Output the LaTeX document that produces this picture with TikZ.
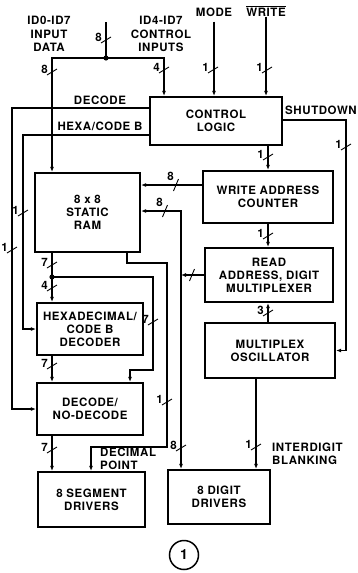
\documentclass[tikz,border=0pt]{standalone}
\usepackage{fontspec}
\newfontfamily\lblfont[LetterSpace=5]{TeX Gyre Heros}
\usetikzlibrary{arrows.meta, positioning, calc}

\tikzset{
    vbus/.pic={
        \draw[line width=0.9pt] (-5pt,-3pt) -- (5pt,3pt);
        \node[tag, anchor=east] at (-3pt,3pt) {#1};
    },
    hbus/.pic={
        \draw[line width=0.9pt] (-2.5pt,-6pt) -- (2.5pt,6pt);
        \node[tag, anchor=south east] at (-1pt,3pt) {#1};
    },
}

\begin{document}
\begin{tikzpicture}[
    x=1pt, y=-1pt,
    >={Latex[length=5pt,width=4pt]},
    tag/.style={
        font=\lblfont\bfseries\fontsize{11.5}{13.5}\selectfont,
        inner sep=1pt,
    },
    block/.style={
        rectangle, draw, line width=2.2pt,
        font=\lblfont\bfseries\fontsize{11.5}{13}\selectfont,
        align=center, inner sep=2pt,
    },
    wire/.style={line width=1.1pt},
]
\useasboundingbox (0,0) rectangle (358,573);

% ── Blocks ─────────────────────────────────────────────────────────────────
\node[block, minimum width=132pt, minimum height=48pt] (ctrl)   at (216,121)   {CONTROL\\LOGIC};
\node[block, minimum width=105pt, minimum height=79pt] (ram)    at (87.5,212.5) {8 x 8\\STATIC\\RAM};
\node[block, minimum width=130pt, minimum height=52pt] (wac)    at (268,197)   {WRITE ADDRESS\\COUNTER};
\node[block, minimum width=128pt, minimum height=54pt] (rmux)   at (269,275)   {READ\\ADDRESS, DIGIT\\MULTIPLEXER};
\node[block, minimum width=130pt, minimum height=55pt] (osc)    at (270,350.5) {MULTIPLEX\\OSCILLATOR};
\node[block, minimum width=106pt, minimum height=52pt] (hexdec) at (90,329)    {HEXADECIMAL/\\CODE B\\DECODER};
\node[block, minimum width=106pt, minimum height=52pt] (dnd)    at (90,409)    {DECODE/\\NO-DECODE};
\node[block, minimum width=107pt, minimum height=55pt] (segdrv) at (91.5,499.5) {8 SEGMENT\\DRIVERS};
\node[block, minimum width=102pt, minimum height=54pt] (digdrv) at (219,497)   {8 DIGIT\\DRIVERS};

% ── Labels ─────────────────────────────────────────────────────────────────
\node[tag, align=center] (idata) at (49,34)  {ID0-ID7\\INPUT\\DATA};
\node[tag, align=center] (ictrl) at (161,34) {ID4-ID7\\CONTROL\\INPUTS};
\node[tag] (mode) at (214,12) {MODE};
\node[tag] (wr)   at (266,11) {$\overline{\hbox{WRITE}}$};
\node[tag] (ldec) at (100,100) {DECODE};
\node[tag] (lhex) at (100,126) {HEXA/CODE B};
\node[tag] (lshd) at (321,110) {SHUTDOWN};
\node[tag, align=left, anchor=west] (ldp)  at (99,459)  {DECIMAL\\POINT};
\node[tag, align=left, anchor=west] (lblk) at (271,454) {INTERDIGIT\\BLANKING};
\node[tag, font=\lblfont\bfseries\fontsize{14}{16}\selectfont, circle, draw,
      line width=1.5pt, minimum size=29pt] (fig) at (184,555) {1};

% ── Columns / rows ─────────────────────────────────────────────────────────
\coordinate (xa) at (52,0);
\coordinate (xd) at (12,0);
\coordinate (xh) at (23,0);
\coordinate (xi) at (164,0);
\coordinate (xs) at (346,0);
\coordinate (xc) at (268,0);
\coordinate (xb) at (181,0);
\coordinate (xn) at (130,0);
\coordinate (xp) at (91,0);
\coordinate (xo) at (256,0);
\coordinate (ydec) at (0,108);
\coordinate (yhex) at (0,135);
\coordinate (yshd) at (0,120);
\coordinate (ywa)  at (0,185);
\coordinate (yrb)  at (0,211);
\coordinate (idtop)  at (106,22);
\coordinate (idj)    at (106,58);
\coordinate (sj)     at (52,277);
\coordinate (bypass) at (153,370);
\coordinate (dp1)    at (127,263);
\coordinate (dp2)    at (167,447);

% ── Inputs ─────────────────────────────────────────────────────────────────
\draw[wire] (idtop) -- (idj);
\draw[wire, ->] (idj) -| (ram.north -| xa);
\draw[wire, ->] (idj) -| (ctrl.north -| xi);
\fill (idj) circle[radius=2.6pt];
\draw[wire, ->] ([yshift=-4pt]mode.south) -- (ctrl.north -| mode.south);
\draw[wire, ->] (wr.south) -- (ctrl.north -| wr.south);

% ── Control outputs ────────────────────────────────────────────────────────
\draw[wire, ->] (ctrl.west |- ydec) -- (xd |- ydec) |- (dnd.west);
\draw[wire, ->] (ctrl.west |- yhex) -- (xh |- yhex) |- (hexdec.west);
\draw[wire, ->] (ctrl.east |- yshd) -- (xs |- yshd) |- (osc.east);
\draw[wire, ->] (ctrl.south -| xc) -- (wac.north -| xc);

% ── Address path ───────────────────────────────────────────────────────────
\draw[wire, ->] (wac.south -| xc) -- (rmux.north -| xc);
\draw[wire, ->] (osc.north -| xc) -- (rmux.south -| xc);
\draw[wire, ->] (wac.west |- ywa) -- (ram.east |- ywa);
\draw[wire, ->] (rmux.west) -- (xb |- rmux.west);
\draw[wire, <->] (ram.east |- yrb) -| (digdrv.north -| xb);
\draw[wire, ->] (osc.south -| xo) -- (digdrv.north -| xo);

% ── Segment path ───────────────────────────────────────────────────────────
\draw[wire, ->] (ram.south -| xa) -- (hexdec.north -| xa);
\fill (sj) circle[radius=2.6pt];
\draw[wire, ->] (sj) -| (bypass) -| (dnd.north -| xn);
\draw[wire, ->] (hexdec.south -| xa) -- (dnd.north -| xa);
\draw[wire, ->] (dnd.south -| xa) -- (segdrv.north -| xa);
\draw[wire, ->] (ram.south -| dp1) -- (dp1) -| (dp2) -| (segdrv.north -| xp);

% ── Bus widths ─────────────────────────────────────────────────────────────
\pic at (106,40)  {vbus=8};
\pic at (52,72)   {vbus=8};
\pic at (164,70)  {vbus=4};
\pic at (213,70)  {vbus=1};
\pic at (267,70)  {vbus=1};
\pic at (346,147) {vbus=1};
\pic at (268,157) {vbus=1};
\pic at (268,236) {vbus=1};
\pic at (268,313) {vbus=3};
\pic at (52,265)  {vbus=7};
\pic at (52,288)  {vbus=4};
\pic at (52,366)  {vbus=7};
\pic at (52,450)  {vbus=7};
\pic at (153,322) {vbus=7};
\pic at (167,402) {vbus=1};
\pic at (181,448) {vbus=8};
\pic at (256,447) {vbus=1};
\pic at (12,250)  {vbus=1};
\pic at (23,213)  {vbus=1};
\pic at (176,185) {hbus=8};
\pic at (165,211) {hbus=8};
\pic at (192,275) {hbus={}};

\end{tikzpicture}
\end{document}
